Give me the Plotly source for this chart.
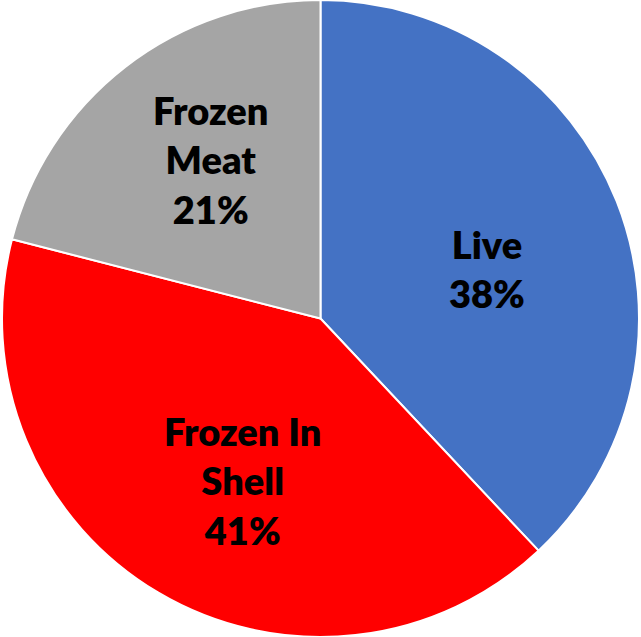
import math
import plotly.graph_objects as go

labels = ["Live", "Frozen In Shell", "Frozen Meat"]
display = ["Live", "Frozen In<br>Shell", "Frozen<br>Meat"]
values = [38, 41, 21]
colors = ["#4472C4", "#FF0000", "#A5A5A5"]

W, H = 641, 637
fig = go.Figure(go.Pie(
    labels=labels,
    values=values,
    textinfo="none",
    sort=False,
    direction="clockwise",
    rotation=0,
    marker=dict(colors=colors, line=dict(color="white", width=2)),
    showlegend=False,
    hoverinfo="label+percent",
))

# label placement: at mid-angle of each slice, ~57% of the radius,
# with small per-label nudges (pixels) like the spreadsheet's best-fit layout
total = sum(values)
R = min(W, H) / 2
frac = 0.57
nudges = [(-2, -17), (14, -6), (2, 16)]
cum = 0
annotations = []
for lab, v, (dx, dy) in zip(display, values, nudges):
    mid = (cum + v / 2) / total * 2 * math.pi
    cum += v
    x = 0.5 + frac * R * math.sin(mid) / W
    y = 0.5 + frac * R * math.cos(mid) / H
    annotations.append(dict(
        x=x, y=y, xref="paper", yref="paper",
        xshift=dx, yshift=dy,
        text=f"{lab}<br>{v / total * 100:.0f}%",
        showarrow=False, xanchor="center", yanchor="middle",
        font=dict(family="Lato", size=38, color="black", weight=800),
    ))

fig.update_layout(
    width=W, height=H,
    margin=dict(l=0, r=0, t=0, b=0),
    paper_bgcolor="white",
    annotations=annotations,
)
fig.write_html("out.html", config={"displayModeBar": False},
               post_script="document.body.style.margin='0';")
